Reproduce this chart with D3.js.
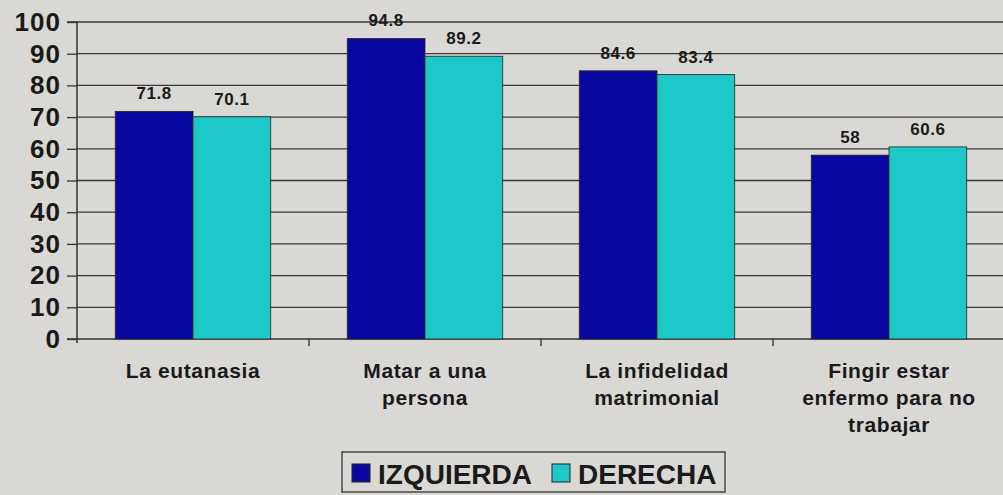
<!DOCTYPE html>
<html><head><meta charset="utf-8">
<script src="https://cdn.jsdelivr.net/npm/d3@7"></script>
<style>body{margin:0;background:#d9d8d4;}svg{display:block;}</style>
</head><body>
<svg id="c" width="1003" height="495"></svg>
<script>
const categories = [["La eutanasia"],["Matar a una","persona"],["La infidelidad","matrimonial"],["Fingir estar","enfermo para no","trabajar"]];
const seriesNames = ["IZQUIERDA","DERECHA"];
const izquierda = [71.8, 94.8, 84.6, 58];
const derecha = [70.1, 89.2, 83.4, 60.6];
const yTicks = [0,10,20,30,40,50,60,70,80,90,100];
const colors = ["#0808a0","#1ec8c8"];

(function(){
const svg = d3.select("#c");
const pL = 77, pR = 1005, pT = 22, pB = 339;
const FF = "Liberation Sans, Arial, sans-serif";
const x0 = d3.scaleBand().domain(d3.range(categories.length)).range([pL, pR]).padding(0);
const groupW = x0.bandwidth()*0.67;
const x1 = d3.scaleBand().domain([0,1]).range([0, groupW]).padding(0);
const y = d3.scaleLinear().domain([0,100]).range([pB, pT]);

svg.append("rect").attr("width",1003).attr("height",495).attr("fill","#d9d8d4");

// gridlines
svg.append("g").selectAll("line").data(yTicks.filter(d=>d>0)).join("line")
  .attr("x1", pL).attr("x2", 1003).attr("y1", d=>y(d)).attr("y2", d=>y(d))
  .attr("stroke","#3a3a3a").attr("stroke-width",1.3);

// y axis
const yAxis = d3.axisLeft(y).tickValues(yTicks).tickSize(10).tickPadding(6);
const gy = svg.append("g").attr("transform",`translate(${pL},0)`).call(yAxis);
gy.select(".domain").attr("stroke","#333").attr("stroke-width",1.5).attr("d",`M-10,${pT}H0V${pB+4}`);
gy.selectAll(".tick line").attr("stroke","#333").attr("stroke-width",1.3);
gy.selectAll("text").attr("font-family",FF).attr("font-weight","bold").attr("font-size",26)
  .attr("letter-spacing",1).attr("fill","#1a1a1a");

// x axis
const gx = svg.append("g").attr("transform",`translate(0,${pB})`);
gx.append("line").attr("x1",pL-10).attr("x2",1003).attr("stroke","#333").attr("stroke-width",1.5);
gx.selectAll("line.t").data(d3.range(1,categories.length)).join("line").attr("class","t")
  .attr("x1",d=>x0(d)).attr("x2",d=>x0(d)).attr("y1",0).attr("y2",7).attr("stroke","#333").attr("stroke-width",1.3);

// bars
const data = categories.map((c,i)=>({i, vals:[izquierda[i], derecha[i]]}));
const groups = svg.append("g").selectAll("g").data(data).join("g")
  .attr("transform", d=>`translate(${x0(d.i)+(x0.bandwidth()-groupW)/2},0)`);
groups.selectAll("rect").data(d=>d.vals.map((v,k)=>({v,k}))).join("rect")
  .attr("x", d=>x1(d.k)).attr("width", x1.bandwidth())
  .attr("y", d=>y(d.v)).attr("height", d=>pB-y(d.v))
  .attr("fill", d=>colors[d.k]).attr("stroke","#222").attr("stroke-width",0.8);
groups.selectAll("text").data(d=>d.vals.map((v,k)=>({v,k}))).join("text")
  .attr("x", d=>x1(d.k)+x1.bandwidth()/2).attr("y", d=>y(d.v)-12)
  .attr("text-anchor","middle").attr("font-family",FF)
  .attr("font-weight","bold").attr("font-size",17).attr("letter-spacing",0.5).attr("fill","#1a1a1a").text(d=>d.v);

// category labels
const cl = svg.append("g").selectAll("text").data(categories).join("text")
  .attr("text-anchor","middle").attr("font-family",FF)
  .attr("font-weight","bold").attr("font-size",21).attr("letter-spacing",0.6).attr("fill","#1a1a1a");
cl.each(function(lines,i){
  d3.select(this).selectAll("tspan").data(lines).join("tspan")
    .attr("x", x0(i)+x0.bandwidth()/2).attr("y",(d,j)=>378+j*27).text(d=>d);
});

// legend
const lg = svg.append("g").attr("transform","translate(342,452)");
lg.append("rect").attr("width",383).attr("height",40).attr("fill","none").attr("stroke","#333").attr("stroke-width",1.3);
const items = [[0,10],[1,210]];
items.forEach(([k,xo])=>{
  lg.append("rect").attr("x",xo).attr("y",12).attr("width",18).attr("height",18).attr("fill",colors[k]).attr("stroke","#222").attr("stroke-width",1);
  lg.append("text").attr("x",xo+26).attr("y",32).attr("font-family",FF)
    .attr("font-weight","bold").attr("font-size",28).attr("fill","#1a1a1a").text(seriesNames[k]);
});
})();
</script>
</body></html>
